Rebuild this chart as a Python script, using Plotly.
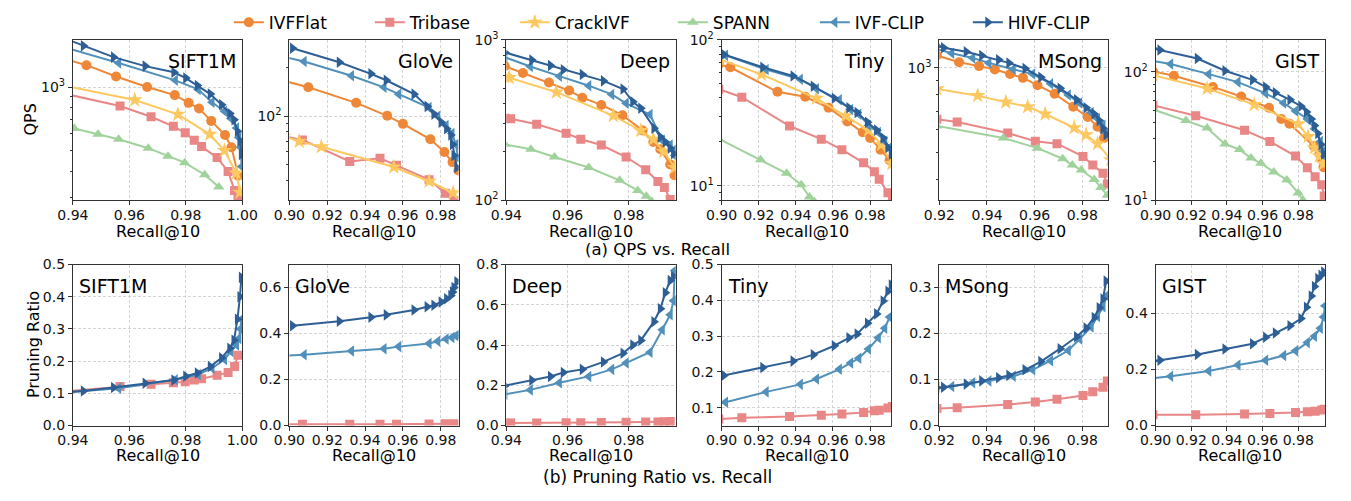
import plotly.graph_objects as go

# ---------------- data ----------------
DATASETS = ["SIFT1M", "GloVe", "Deep", "Tiny", "MSong", "GIST"]
METHODS = ["IVFFlat", "Tribase", "CrackIVF", "SPANN", "IVF-CLIP", "HIVF-CLIP"]

# SIFT1M
SIFT1M_IVFFLAT_R = [0.937, 0.9448, 0.9553, 0.9663, 0.9761, 0.981, 0.9847, 0.989, 0.9939, 0.9962, 0.9986]
SIFT1M_IVFFLAT_QPS = [1360, 1269, 1122, 1000, 916, 842, 791, 692, 593, 519, 381]
SIFT1M_TRIBASE_R = [0.937, 0.9567, 0.9677, 0.9756, 0.9798, 0.983, 0.9856, 0.9911, 0.995, 0.9973, 0.9985]
SIFT1M_TRIBASE_QPS = [930, 813, 724, 652, 608, 561, 523, 464, 399, 324, 296]
SIFT1M_TRIBASE_PR = [0.106, 0.121, 0.128, 0.133, 0.136, 0.141, 0.145, 0.156, 0.165, 0.183, 0.218]
SIFT1M_CRACK_R = [0.937, 0.9619, 0.9772, 0.9885, 0.9937, 0.9979, 0.9992]
SIFT1M_CRACK_QPS = [1015, 869, 743, 598, 501, 392, 318]
SIFT1M_SPANN_R = [0.9405, 0.9489, 0.9562, 0.9667, 0.9737, 0.9796, 0.9867, 0.9917]
SIFT1M_SPANN_QPS = [637, 598, 566, 514, 471, 439, 385, 337]
SIFT1M_IVFCLIP_R = [0.937, 0.9562, 0.9763, 0.9844, 0.9893, 0.9937, 0.996, 0.998, 0.9988, 0.9994, 0.9998]
SIFT1M_IVFCLIP_QPS = [1540, 1300, 1076, 975, 847, 769, 711, 641, 577, 519, 421]
SIFT1M_IVFCLIP_PR = [0.102, 0.116, 0.142, 0.158, 0.178, 0.205, 0.23, 0.25, 0.27, 0.30, 0.33]
SIFT1M_HIVF_R = [0.937, 0.9437, 0.9544, 0.9656, 0.9758, 0.980, 0.9841, 0.9887, 0.9927, 0.9956, 0.9971, 0.9983, 0.9992, 0.9997]
SIFT1M_HIVF_QPS = [1700, 1566, 1385, 1256, 1175, 1103, 1018, 926, 824, 750, 700, 618, 557, 480]
SIFT1M_HIVF_PR = [0.103, 0.107, 0.118, 0.131, 0.141, 0.153, 0.163, 0.183, 0.21, 0.24, 0.265, 0.33, 0.40, 0.46]

# GloVe
GLOVE_IVFFLAT_R = [0.897, 0.91, 0.9353, 0.9517, 0.96, 0.9745, 0.9819, 0.9862, 0.9893]
GLOVE_IVFFLAT_QPS = [166, 151, 121, 100.5, 89.6, 71.9, 60, 51.9, 46]
GLOVE_TRIBASE_R = [0.897, 0.9069, 0.9319, 0.9479, 0.9566, 0.9738, 0.9824, 0.987]
GLOVE_TRIBASE_QPS = [75, 71.3, 52.4, 54.8, 49.6, 40.4, 33.3, 30]
GLOVE_TRIBASE_PR = [0.005, 0.006, 0.006, 0.006, 0.006, 0.007, 0.008, 0.008]
GLOVE_CRACK_R = [0.897, 0.9052, 0.9169, 0.9552, 0.9738, 0.9865]
GLOVE_CRACK_QPS = [75, 69.8, 64.6, 48.4, 39.5, 33.5]
GLOVE_IVFCLIP_R = [0.897, 0.9078, 0.9328, 0.95, 0.9578, 0.9738, 0.9784, 0.9828, 0.9859, 0.988, 0.9892]
GLOVE_IVFCLIP_QPS = [234, 218, 178, 151, 137, 113, 100, 87.6, 78, 66.7, 55]
GLOVE_IVFCLIP_PR = [0.303, 0.308, 0.324, 0.334, 0.343, 0.357, 0.366, 0.376, 0.383, 0.39, 0.395]
GLOVE_HIVF_R = [0.9017, 0.9264, 0.9431, 0.9512, 0.9659, 0.9728, 0.9764, 0.9802, 0.9831, 0.9853, 0.9862, 0.987, 0.9885]
GLOVE_HIVF_QPS = [264, 216, 183, 167, 137, 115, 103, 91.7, 83.7, 76.4, 66.7, 57, 48]
GLOVE_HIVF_PR = [0.434, 0.453, 0.471, 0.481, 0.502, 0.516, 0.523, 0.537, 0.551, 0.565, 0.58, 0.60, 0.625]

# Deep
DEEP_IVFFLAT_R = [0.9395, 0.9454, 0.9539, 0.9605, 0.9648, 0.971, 0.9779, 0.9845, 0.988, 0.9903, 0.9935, 0.9949]
DEEP_IVFFLAT_QPS = [685, 622, 542, 483, 436, 393, 339, 272, 231, 208, 167, 143]
DEEP_TRIBASE_R = [0.9395, 0.9414, 0.9499, 0.9595, 0.9643, 0.971, 0.9791, 0.9855, 0.9895, 0.9916, 0.9935]
DEEP_TRIBASE_QPS = [325, 322, 298, 262, 240, 221, 186, 155, 131, 120, 101]
DEEP_TRIBASE_PR = [0.013, 0.013, 0.013, 0.014, 0.014, 0.015, 0.016, 0.017, 0.018, 0.019, 0.02]
DEEP_CRACK_R = [0.9395, 0.9409, 0.9563, 0.9749, 0.9839, 0.988, 0.9914, 0.995]
DEEP_CRACK_QPS = [590, 581, 472, 337, 272, 240, 201, 160]
DEEP_SPANN_R = [0.9395, 0.948, 0.9557, 0.9669, 0.977, 0.9829, 0.9857, 0.9875]
DEEP_SPANN_QPS = [223, 208, 186, 160, 133, 115, 106, 98]
DEEP_IVFCLIP_R = [0.9395, 0.9478, 0.9573, 0.9669, 0.9744, 0.9791, 0.9869, 0.9909, 0.9935, 0.9946, 0.995]
DEEP_IVFCLIP_QPS = [780, 682, 594, 518, 457, 402, 342, 237, 221, 205, 190]
DEEP_IVFCLIP_PR = [0.155, 0.177, 0.212, 0.244, 0.279, 0.311, 0.364, 0.476, 0.55, 0.62, 0.77]
DEEP_HIVF_R = [0.9395, 0.9483, 0.9544, 0.9586, 0.9648, 0.9717, 0.9781, 0.9813, 0.9839, 0.9882, 0.9903, 0.9919, 0.9935, 0.9946]
DEEP_HIVF_QPS = [835, 748, 692, 652, 608, 555, 494, 411, 375, 281, 248, 231, 211, 195]
DEEP_HIVF_PR = [0.198, 0.225, 0.244, 0.263, 0.279, 0.316, 0.359, 0.40, 0.423, 0.516, 0.58, 0.66, 0.72, 0.74]

# Tiny
TINY_IVFFLAT_R = [0.8985, 0.9047, 0.9301, 0.945, 0.9576, 0.9677, 0.976, 0.98, 0.9856, 0.9905]
TINY_IVFFLAT_QPS = [68, 64.9, 44.1, 40.8, 34.3, 27.6, 23.3, 21.3, 17.7, 15.0]
TINY_TRIBASE_R = [0.8985, 0.9109, 0.9366, 0.9537, 0.9648, 0.9765, 0.9823, 0.9849, 0.9896, 0.992]
TINY_TRIBASE_QPS = [46, 40.5, 25.7, 20.9, 17.7, 14.4, 12.5, 11.1, 8.96, 8.0]
TINY_TRIBASE_PR = [0.068, 0.072, 0.075, 0.079, 0.082, 0.0865, 0.091, 0.093, 0.099, 0.103]
TINY_CRACK_R = [0.8985, 0.9214, 0.9511, 0.9669, 0.9791, 0.9861, 0.9917]
TINY_CRACK_QPS = [74, 58.1, 39.8, 30.2, 24.1, 19.2, 14.2]
TINY_SPANN_R = [0.8985, 0.921, 0.935, 0.9429, 0.9473, 0.950]
TINY_SPANN_QPS = [21, 15.1, 12.2, 10.2, 8.4, 7.8]
TINY_IVFCLIP_R = [0.8985, 0.9021, 0.924, 0.9424, 0.9511, 0.9634, 0.9695, 0.9739, 0.9791, 0.9844, 0.9879, 0.9905]
TINY_IVFCLIP_QPS = [80, 78.5, 62.6, 53.8, 46.3, 38.9, 33.4, 31, 26, 23.2, 20.2, 18.3]
TINY_IVFCLIP_PR = [0.112, 0.115, 0.144, 0.165, 0.18, 0.207, 0.225, 0.238, 0.264, 0.295, 0.322, 0.353]
TINY_HIVF_R = [0.8985, 0.9012, 0.9222, 0.9385, 0.9494, 0.9607, 0.9686, 0.973, 0.9786, 0.9835, 0.987, 0.9896, 0.9914]
TINY_HIVF_QPS = [81, 79.4, 64.9, 56.6, 48.2, 39.8, 34.3, 31.8, 27.3, 24.1, 21.3, 18.3, 16.5]
TINY_HIVF_PR = [0.187, 0.19, 0.212, 0.23, 0.248, 0.273, 0.295, 0.306, 0.336, 0.362, 0.398, 0.425, 0.443]

# MSong
MSONG_IVFFLAT_R = [0.919, 0.9283, 0.9367, 0.9433, 0.9497, 0.9551, 0.9612, 0.9684, 0.9762, 0.9823, 0.9864, 0.9891]
MSONG_IVFFLAT_QPS = [1105, 1045, 1013, 985, 949, 920, 866, 807, 726, 667, 616, 562]
MSONG_TRIBASE_R = [0.919, 0.9275, 0.9487, 0.9603, 0.9694, 0.9803, 0.9844, 0.9887, 0.9905]
MSONG_TRIBASE_QPS = [655, 641, 585, 547, 536, 483, 450, 421, 385]
MSONG_TRIBASE_PR = [0.037, 0.0385, 0.0455, 0.051, 0.057, 0.065, 0.0736, 0.083, 0.097]
MSONG_CRACK_R = [0.919, 0.9361, 0.9479, 0.9571, 0.9644, 0.9766, 0.9816, 0.9864, 0.992]
MSONG_CRACK_QPS = [840, 795, 754, 726, 684, 611, 577, 536, 470]
MSONG_SPANN_R = [0.919, 0.9469, 0.9612, 0.9718, 0.9758, 0.9796, 0.985, 0.9878, 0.9905]
MSONG_SPANN_QPS = [620, 562, 517, 474, 450, 432, 400, 374, 351]
MSONG_IVFCLIP_R = [0.919, 0.9252, 0.934, 0.9408, 0.951, 0.9592, 0.9667, 0.9741, 0.9789, 0.9837, 0.9864, 0.9887, 0.9902]
MSONG_IVFCLIP_QPS = [1165, 1125, 1082, 1040, 987, 949, 877, 800, 749, 693, 658, 624, 585]
MSONG_IVFCLIP_PR = [0.082, 0.085, 0.093, 0.097, 0.107, 0.121, 0.141, 0.163, 0.188, 0.214, 0.237, 0.258, 0.282]
MSONG_HIVF_R = [0.919, 0.9218, 0.9313, 0.9378, 0.9449, 0.9492, 0.956, 0.9626, 0.9707, 0.9776, 0.9816, 0.985, 0.9871, 0.9887, 0.99]
MSONG_HIVF_QPS = [1195, 1177, 1140, 1104, 1067, 1040, 993, 925, 844, 769, 720, 684, 649, 608, 577]
MSONG_HIVF_PR = [0.082, 0.083, 0.09, 0.097, 0.104, 0.109, 0.121, 0.139, 0.167, 0.193, 0.212, 0.235, 0.256, 0.275, 0.314]

# GIST
GIST_IVFFLAT_R = [0.8985, 0.9102, 0.9321, 0.948, 0.9636, 0.9705, 0.9751, 0.9888, 0.9919, 0.9932, 0.9942]
GIST_IVFFLAT_QPS = [101, 93.3, 76.3, 64.2, 52.5, 42.9, 39.4, 26.3, 23, 20.9, 18.1]
GIST_TRIBASE_R = [0.8985, 0.9225, 0.9499, 0.9641, 0.9785, 0.9851, 0.9895, 0.9932, 0.9946]
GIST_TRIBASE_QPS = [55, 45.5, 35.1, 28.7, 22.1, 17.9, 15.2, 13.2, 10.8]
GIST_TRIBASE_PR = [0.038, 0.038, 0.041, 0.043, 0.046, 0.049, 0.051, 0.055, 0.058]
GIST_CRACK_R = [0.8985, 0.9289, 0.9553, 0.98, 0.9855, 0.9891, 0.9919, 0.9942]
GIST_CRACK_QPS = [94, 74.1, 55.6, 39.4, 31.3, 25.6, 22.1, 19.2]
GIST_SPANN_R = [0.8985, 0.917, 0.9289, 0.9389, 0.9471, 0.9535, 0.959, 0.9663, 0.9736, 0.98, 0.9827]
GIST_SPANN_QPS = [51, 41.7, 36.5, 27.4, 24.8, 21.3, 19.4, 16.6, 14.4, 11.4, 10]
GIST_IVFCLIP_R = [0.8985, 0.9084, 0.9298, 0.9462, 0.9617, 0.9718, 0.9785, 0.9851, 0.9891, 0.9924, 0.9942, 0.995]
GIST_IVFCLIP_QPS = [122, 115, 96, 83.2, 68, 57.2, 49.5, 42.9, 36.1, 28.7, 24.1, 22]
GIST_IVFCLIP_PR = [0.168, 0.175, 0.194, 0.215, 0.232, 0.249, 0.266, 0.295, 0.318, 0.346, 0.386, 0.426]
GIST_HIVF_R = [0.8985, 0.9024, 0.9234, 0.9389, 0.9544, 0.9617, 0.9672, 0.9754, 0.9815, 0.9846, 0.9873, 0.9891, 0.991, 0.9928, 0.9943]
GIST_HIVF_QPS = [152, 148, 127, 102, 86.6, 76.3, 68.8, 60.6, 54, 48.7, 42.9, 38.2, 33.1, 27.1, 22.8]
GIST_HIVF_PR = [0.23, 0.232, 0.253, 0.272, 0.291, 0.314, 0.329, 0.355, 0.381, 0.421, 0.461, 0.495, 0.523, 0.535, 0.546]

# axis ranges / ticks per dataset
X_RANGES = [[0.94, 1.0], [0.90, 0.9894], [0.94, 0.9953], [0.90, 0.9915], [0.92, 0.991], [0.90, 0.995]]
X_TICKS = [[0.94, 0.96, 0.98, 1.00], [0.90, 0.92, 0.94, 0.96, 0.98], [0.94, 0.96, 0.98],
           [0.90, 0.92, 0.94, 0.96, 0.98], [0.92, 0.94, 0.96, 0.98], [0.90, 0.92, 0.94, 0.96, 0.98]]
QPS_LOG_RANGES = [[2.465, 3.223], [1.479, 2.473], [2.0, 3.0], [0.902, 2.0], [2.528, 3.099], [1.0, 2.249]]
QPS_TICKS = [[1000], [100], [100, 1000], [10, 100], [1000], [10, 100]]
PR_RANGES = [[0, 0.5], [0, 0.70], [0, 0.8], [0.05, 0.5], [0, 0.35], [0, 0.573]]
PR_TICKS = [[0.0, 0.1, 0.2, 0.3, 0.4, 0.5], [0.0, 0.2, 0.4, 0.6], [0.0, 0.2, 0.4, 0.6, 0.8],
            [0.1, 0.2, 0.3, 0.4, 0.5], [0.0, 0.1, 0.2, 0.3], [0.0, 0.2, 0.4]]

# ---------------- assemble ----------------
QPS_DATA = {
    "SIFT1M": {"IVFFlat": (SIFT1M_IVFFLAT_R, SIFT1M_IVFFLAT_QPS), "Tribase": (SIFT1M_TRIBASE_R, SIFT1M_TRIBASE_QPS),
               "CrackIVF": (SIFT1M_CRACK_R, SIFT1M_CRACK_QPS), "SPANN": (SIFT1M_SPANN_R, SIFT1M_SPANN_QPS),
               "IVF-CLIP": (SIFT1M_IVFCLIP_R, SIFT1M_IVFCLIP_QPS), "HIVF-CLIP": (SIFT1M_HIVF_R, SIFT1M_HIVF_QPS)},
    "GloVe": {"IVFFlat": (GLOVE_IVFFLAT_R, GLOVE_IVFFLAT_QPS), "Tribase": (GLOVE_TRIBASE_R, GLOVE_TRIBASE_QPS),
              "CrackIVF": (GLOVE_CRACK_R, GLOVE_CRACK_QPS),
              "IVF-CLIP": (GLOVE_IVFCLIP_R, GLOVE_IVFCLIP_QPS), "HIVF-CLIP": (GLOVE_HIVF_R, GLOVE_HIVF_QPS)},
    "Deep": {"IVFFlat": (DEEP_IVFFLAT_R, DEEP_IVFFLAT_QPS), "Tribase": (DEEP_TRIBASE_R, DEEP_TRIBASE_QPS),
             "CrackIVF": (DEEP_CRACK_R, DEEP_CRACK_QPS), "SPANN": (DEEP_SPANN_R, DEEP_SPANN_QPS),
             "IVF-CLIP": (DEEP_IVFCLIP_R, DEEP_IVFCLIP_QPS), "HIVF-CLIP": (DEEP_HIVF_R, DEEP_HIVF_QPS)},
    "Tiny": {"IVFFlat": (TINY_IVFFLAT_R, TINY_IVFFLAT_QPS), "Tribase": (TINY_TRIBASE_R, TINY_TRIBASE_QPS),
             "CrackIVF": (TINY_CRACK_R, TINY_CRACK_QPS), "SPANN": (TINY_SPANN_R, TINY_SPANN_QPS),
             "IVF-CLIP": (TINY_IVFCLIP_R, TINY_IVFCLIP_QPS), "HIVF-CLIP": (TINY_HIVF_R, TINY_HIVF_QPS)},
    "MSong": {"IVFFlat": (MSONG_IVFFLAT_R, MSONG_IVFFLAT_QPS), "Tribase": (MSONG_TRIBASE_R, MSONG_TRIBASE_QPS),
              "CrackIVF": (MSONG_CRACK_R, MSONG_CRACK_QPS), "SPANN": (MSONG_SPANN_R, MSONG_SPANN_QPS),
              "IVF-CLIP": (MSONG_IVFCLIP_R, MSONG_IVFCLIP_QPS), "HIVF-CLIP": (MSONG_HIVF_R, MSONG_HIVF_QPS)},
    "GIST": {"IVFFlat": (GIST_IVFFLAT_R, GIST_IVFFLAT_QPS), "Tribase": (GIST_TRIBASE_R, GIST_TRIBASE_QPS),
             "CrackIVF": (GIST_CRACK_R, GIST_CRACK_QPS), "SPANN": (GIST_SPANN_R, GIST_SPANN_QPS),
             "IVF-CLIP": (GIST_IVFCLIP_R, GIST_IVFCLIP_QPS), "HIVF-CLIP": (GIST_HIVF_R, GIST_HIVF_QPS)},
}
PR_DATA = {
    "SIFT1M": {"Tribase": (SIFT1M_TRIBASE_R, SIFT1M_TRIBASE_PR), "IVF-CLIP": (SIFT1M_IVFCLIP_R, SIFT1M_IVFCLIP_PR),
               "HIVF-CLIP": (SIFT1M_HIVF_R, SIFT1M_HIVF_PR)},
    "GloVe": {"Tribase": (GLOVE_TRIBASE_R, GLOVE_TRIBASE_PR), "IVF-CLIP": (GLOVE_IVFCLIP_R, GLOVE_IVFCLIP_PR),
              "HIVF-CLIP": (GLOVE_HIVF_R, GLOVE_HIVF_PR)},
    "Deep": {"Tribase": (DEEP_TRIBASE_R, DEEP_TRIBASE_PR), "IVF-CLIP": (DEEP_IVFCLIP_R, DEEP_IVFCLIP_PR),
             "HIVF-CLIP": (DEEP_HIVF_R, DEEP_HIVF_PR)},
    "Tiny": {"Tribase": (TINY_TRIBASE_R, TINY_TRIBASE_PR), "IVF-CLIP": (TINY_IVFCLIP_R, TINY_IVFCLIP_PR),
             "HIVF-CLIP": (TINY_HIVF_R, TINY_HIVF_PR)},
    "MSong": {"Tribase": (MSONG_TRIBASE_R, MSONG_TRIBASE_PR), "IVF-CLIP": (MSONG_IVFCLIP_R, MSONG_IVFCLIP_PR),
              "HIVF-CLIP": (MSONG_HIVF_R, MSONG_HIVF_PR)},
    "GIST": {"Tribase": (GIST_TRIBASE_R, GIST_TRIBASE_PR), "IVF-CLIP": (GIST_IVFCLIP_R, GIST_IVFCLIP_PR),
             "HIVF-CLIP": (GIST_HIVF_R, GIST_HIVF_PR)},
}

COLORS = {"IVFFlat": "#EE8838", "Tribase": "#E98686", "CrackIVF": "#FDC85F",
          "SPANN": "#A0D29B", "IVF-CLIP": "#5090BA", "HIVF-CLIP": "#2D5F96"}
SYMBOLS = {"IVFFlat": "circle", "Tribase": "square", "CrackIVF": "star",
           "SPANN": "triangle-up", "IVF-CLIP": "triangle-left", "HIVF-CLIP": "triangle-right"}
SIZES = {"IVFFlat": 10, "Tribase": 9, "CrackIVF": 12, "SPANN": 10, "IVF-CLIP": 10, "HIVF-CLIP": 10}
LEGEND_W = {"IVFFlat": 96, "Tribase": 100, "CrackIVF": 113, "SPANN": 97, "IVF-CLIP": 108, "HIVF-CLIP": 85}

W, H = 1351, 501
FONT = "DejaVu Sans"
XDOM_PX = [(58.3, 231.7), (280, 453.3), (502.3, 675.7), (722.7, 896.7), (945.7, 1119), (1167.3, 1340.7)]
TOP_PX = (31, 197.3)
BOT_PX = (264, 431)


def fx(px):
    return px / W


def fy(py):
    return 1 - py / H


fig = go.Figure()
shown = set()
axis_common = dict(showline=True, mirror=True, linecolor="#333333", linewidth=1.1,
                   ticks="outside", ticklen=4, tickwidth=1, tickcolor="#333333",
                   showgrid=True, gridcolor="#d4d4d4", gridwidth=0.8, griddash="3px,2px",
                   zeroline=False, tickfont=dict(family=FONT, size=14, color="#111111"))

annotations = []
for row in range(2):
    for c, ds in enumerate(DATASETS):
        k = row * 6 + c + 1
        xa = "x" if k == 1 else f"x{k}"
        ya = "y" if k == 1 else f"y{k}"
        data = QPS_DATA[ds] if row == 0 else PR_DATA[ds]
        for m in METHODS:
            if m not in data:
                continue
            xs, ys = data[m]
            fig.add_trace(go.Scatter(
                x=xs, y=ys, xaxis=xa, yaxis=ya, mode="lines+markers", name=m,
                legendgroup=m, showlegend=(m not in shown), legendwidth=LEGEND_W[m],
                line=dict(color=COLORS[m], width=2),
                marker=dict(symbol=SYMBOLS[m], size=SIZES[m], color=COLORS[m], line=dict(width=0)),
            ))
            shown.add(m)
        xd = [fx(XDOM_PX[c][0]), fx(XDOM_PX[c][1])]
        xaxis = dict(axis_common, domain=xd, anchor=ya, range=X_RANGES[c], ticklabelstandoff=-2,
                     tickmode="array", tickvals=X_TICKS[c], ticktext=[f"{v:.2f}" for v in X_TICKS[c]])
        if row == 0:
            minor_vals = [mm * 10 ** e for e in range(0, 4) for mm in range(2, 10)]
            yaxis = dict(axis_common, domain=[fy(TOP_PX[1]), fy(TOP_PX[0])], anchor=xa, type="log",
                         range=QPS_LOG_RANGES[c], tickmode="array", tickvals=QPS_TICKS[c],
                         ticktext=[f"10<sup>{len(str(v)) - 1}</sup>" for v in QPS_TICKS[c]],
                         minor=dict(tickmode="array", tickvals=minor_vals, ticks="outside", ticklen=2,
                                    tickwidth=0.8, tickcolor="#333333", showgrid=False))
        else:
            yaxis = dict(axis_common, domain=[fy(BOT_PX[1]), fy(BOT_PX[0])], anchor=xa, range=PR_RANGES[c],
                         tickmode="array", tickvals=PR_TICKS[c], ticktext=[f"{v:.1f}" for v in PR_TICKS[c]])
        fig.update_layout(**{("xaxis" if k == 1 else f"xaxis{k}"): xaxis,
                             ("yaxis" if k == 1 else f"yaxis{k}"): yaxis})
        if row == 0:
            annotations.append(dict(text=ds, xref=f"{xa} domain", yref=f"{ya} domain", x=1, y=1,
                                    xanchor="right", yanchor="middle", xshift=-4, yshift=-21,
                                    showarrow=False, font=dict(family=FONT, size=19, color="#000")))
        else:
            annotations.append(dict(text=ds, xref=f"{xa} domain", yref=f"{ya} domain", x=0, y=1,
                                    xanchor="left", yanchor="middle", xshift=4, yshift=-21,
                                    showarrow=False, font=dict(family=FONT, size=19, color="#000")))
        ty = 229.5 if row == 0 else 462.5
        annotations.append(dict(text="Recall@10", xref="paper", yref="paper",
                                x=fx((XDOM_PX[c][0] + XDOM_PX[c][1]) / 2), y=fy(ty),
                                xanchor="center", yanchor="middle", showarrow=False,
                                font=dict(family=FONT, size=16, color="#000")))

annotations.append(dict(text="QPS", xref="paper", yref="paper", x=fx(15), y=fy(114), textangle=-90,
                        xanchor="center", yanchor="middle", showarrow=False,
                        font=dict(family=FONT, size=16, color="#000")))
annotations.append(dict(text="Pruning Ratio", xref="paper", yref="paper", x=fx(17.5), y=fy(347.5),
                        textangle=-90, xanchor="center", yanchor="middle", showarrow=False,
                        font=dict(family=FONT, size=16, color="#000")))
annotations.append(dict(text="(a) QPS vs. Recall", xref="paper", yref="paper", x=fx(657), y=fy(248.5),
                        xanchor="center", yanchor="middle", showarrow=False, borderpad=0,
                        font=dict(family=FONT, size=16.5, color="#000")))
annotations.append(dict(text="(b) Pruning Ratio vs. Recall", xref="paper", yref="paper", x=fx(657),
                        y=fy(484), xanchor="center", yanchor="middle", showarrow=False,
                        font=dict(family=FONT, size=17, color="#000")))

fig.update_layout(
    width=W, height=H, margin=dict(l=0, r=0, t=0, b=0),
    paper_bgcolor="white", plot_bgcolor="white",
    font=dict(family=FONT, color="#000"),
    showlegend=True,
    legend=dict(orientation="h", x=fx(218), xanchor="left", y=1.0 + 5.5 / H, yanchor="top",
                font=dict(family=FONT, size=17, color="#000"), bgcolor="rgba(0,0,0,0)",
                tracegroupgap=0, itemwidth=30),
    annotations=annotations,
)

fig.write_html("out.html")
